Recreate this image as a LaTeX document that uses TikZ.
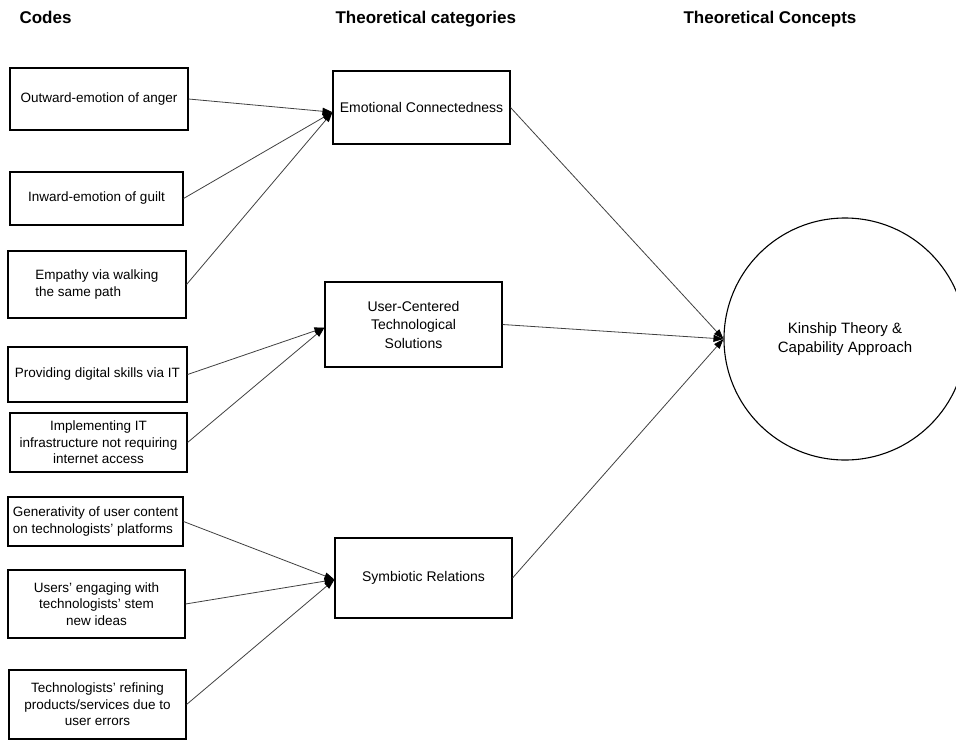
\documentclass[tikz,border=0pt]{standalone}
\usepackage{fontspec}
\setmainfont{Liberation Sans}
\usetikzlibrary{positioning, arrows.meta}

\begin{document}
\begin{tikzpicture}[x=1pt, y=-1pt, >={Triangle[length=10pt, width=7pt, color=black]},
    codebox/.style={draw, line width=1.1pt, inner sep=2pt, font=\fontsize{13.5}{16.5}\selectfont},
    catbox/.style={draw, line width=1.1pt, inner sep=2pt, minimum width=177pt, align=center, font=\fontsize{14}{18.5}\selectfont},
    head/.style={anchor=base west, font=\fontsize{17}{20}\selectfont\bfseries},
    link/.style={->, line width=0.8pt, draw=black!75}]

    \useasboundingbox (0,0) rectangle (956,740);

    % 見出し
    \node[head] (hCodes) at (16,23) {Codes};
    \node[head] (hCats) at (332,23) {Theoretical categories};
    \node[head] (hConc) at (680,23) {Theoretical Concepts};

    % コード
    \node[codebox, minimum width=178pt, minimum height=62pt, align=center] (c1) at (99,99) {Outward-emotion of anger};
    \node[codebox, minimum width=173pt, minimum height=53pt, align=center] (c2) at (96.5,198.5) {Inward-emotion of guilt};
    \node[codebox, minimum width=178pt, minimum height=67pt, align=left] (c3) at (97,284.5) {Empathy via walking\\the same path};
    \node[codebox, minimum width=179pt, minimum height=55pt, align=center] (c4) at (97.5,374.5) {Providing digital skills via IT};
    \node[codebox, minimum width=177pt, minimum height=59pt, align=center] (c5) at (98.5,442.5) {Implementing IT\\infrastructure not requiring\\internet access};
    \node[codebox, minimum width=175pt, minimum height=49pt, align=left] (c6) at (95.5,521.5) {Generativity of user content\\on technologists' platforms};
    \node[codebox, minimum width=177pt, minimum height=68pt, align=center] (c7) at (96.5,604) {Users' engaging with\\technologists' stem\\new ideas};
    \node[codebox, minimum width=177pt, minimum height=69pt, align=center] (c8) at (97.5,704.5) {Technologists' refining\\products/services due to\\user errors};

    % カテゴリー
    \node[catbox, minimum height=73pt] (A) at (421.5,107.5) {Emotional Connectedness};
    \node[catbox, minimum height=85pt] (B) at (413.5,324.5) {User-Centered\\Technological\\Solutions};
    \node[catbox, minimum height=80pt] (C) at (423.5,578) {Symbiotic Relations};

    % 理論概念
    \node[circle, draw, line width=1.1pt, minimum size=242pt, inner sep=0pt, align=center,
          font=\fontsize{15}{19}\selectfont] (K) at (845,339) {Kinship Theory \&\\Capability Approach};

    % 矢印
    \draw[link] (c1.east) -- (A.183.5);
    \draw[link] (c2.east) -- (A.183.5);
    \draw[link] (c3.east) -- (A.183.5);
    \draw[link] (c4.east) -- (B.182.3);
    \draw[link] (c5.east) -- (B.182.3);
    \draw[link] (c6.east) -- (C.181.3);
    \draw[link] (c7.east) -- (C.181.3);
    \draw[link] (c8.east) -- (C.181.3);
    \draw[link] (A.east) -- (K.west);
    \draw[link] (B.east) -- (K.west);
    \draw[link] (C.east) -- (K.west);
\end{tikzpicture}
\end{document}
